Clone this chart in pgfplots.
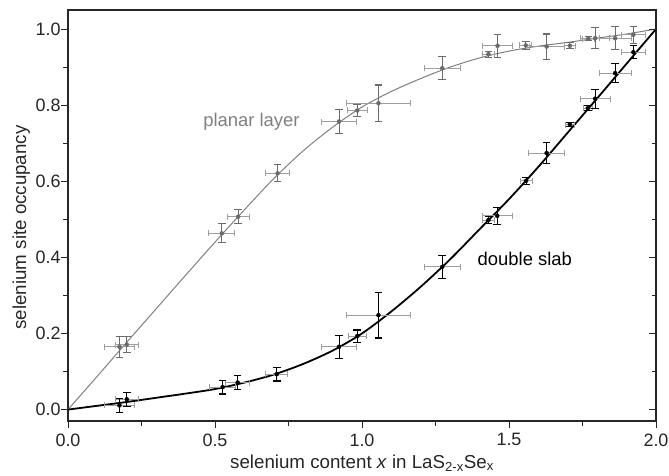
\documentclass[border=0pt]{standalone}
\usepackage{fontspec}
\setmainfont{Liberation Sans}
\usepackage{pgfplots}
\usepackage{pgfplotstable}
\pgfplotsset{compat=1.18}

\definecolor{planar}{gray}{0.5}
\definecolor{planarerr}{gray}{0.42}
\definecolor{xerr}{gray}{0.62}
\definecolor{frame}{gray}{0.15}

% columns: x, occupancy, x error, occupancy error
\pgfplotstableread{
x     y     ex    ey
0.175 0.165 0.050 0.027
0.200 0.171 0.040 0.022
0.523 0.463 0.044 0.025
0.579 0.507 0.037 0.018
0.713 0.621 0.040 0.022
0.922 0.757 0.060 0.031
0.984 0.786 0.034 0.016
1.056 0.805 0.109 0.048
1.273 0.897 0.060 0.030
1.430 0.934 0.020 0.008
1.461 0.956 0.052 0.030
1.557 0.957 0.020 0.010
1.628 0.954 0.060 0.033
1.707 0.956 0.020 0.008
1.770 0.975 0.020 0.006
1.793 0.976 0.050 0.027
1.861 0.976 0.054 0.030
1.923 0.985 0.040 0.022
}\planar

\pgfplotstableread{
x     y     ex    ey
0.175 0.011 0.050 0.018
0.200 0.027 0.040 0.018
0.526 0.059 0.045 0.018
0.577 0.071 0.040 0.018
0.710 0.093 0.037 0.018
0.922 0.165 0.060 0.030
0.984 0.193 0.030 0.016
1.056 0.248 0.109 0.060
1.273 0.375 0.060 0.030
1.430 0.498 0.020 0.009
1.460 0.509 0.052 0.023
1.558 0.601 0.020 0.009
1.628 0.674 0.061 0.028
1.707 0.749 0.015 0.006
1.768 0.792 0.015 0.006
1.793 0.817 0.051 0.025
1.861 0.884 0.054 0.025
1.923 0.939 0.040 0.017
}\slab

% fitted curves
\pgfplotstableread{
x   y
0.0 0.000
0.1 0.088
0.2 0.177
0.3 0.265
0.4 0.353
0.5 0.440
0.6 0.525
0.7 0.607
0.8 0.680
0.9 0.742
1.0 0.795
1.1 0.836
1.2 0.870
1.3 0.900
1.4 0.924
1.5 0.942
1.6 0.955
1.7 0.965
1.8 0.976
1.9 0.987
2.0 1.000
}\planarfit

\pgfplotstableread{
x   y
0.0 0.000
0.1 0.010
0.2 0.020
0.3 0.031
0.4 0.042
0.5 0.054
0.6 0.071
0.7 0.092
0.8 0.120
0.9 0.155
1.0 0.200
1.1 0.258
1.2 0.323
1.3 0.395
1.4 0.474
1.5 0.553
1.6 0.638
1.7 0.728
1.8 0.818
1.9 0.909
2.0 1.000
}\slabfit

\begin{document}
\begin{tikzpicture}
\pgfplotsset{
  common/.style={
    scale only axis, width=588bp, height=411bp,
    xmin=0, xmax=2, ymin=-0.03, ymax=1.05,
    xtick={0,0.5,1,1.5,2}, minor x tick num=1,
    ytick={0,0.2,0.4,0.6,0.8,1.0}, minor y tick num=1,
    major tick length=7bp, minor tick length=4.5bp,
    tick style={frame, line width=0.9bp},
  },
  xbars/.style={draw=none, error bars/.cd, x dir=both, x explicit, error mark=|,
    error bar style={xerr, line width=0.8bp},
    error mark options={xerr, line width=0.8bp, mark size=3bp}},
  ybars/.style={draw=none, error bars/.cd, y dir=both, y explicit, error mark=|,
    error bar style={#1, line width=1.1bp},
    error mark options={#1, line width=1.1bp, mark size=3.8bp}},
}
\begin{axis}[
  common,
  xtick pos=bottom, ytick pos=left, tick align=outside,
  axis line style={frame, line width=1.1bp},
  /pgf/number format/.cd, fixed, fixed zerofill, precision=1, assume math mode=true,
  /pgfplots/.cd,
  tick label style={font=\fontsize{18}{18}\selectfont, text=frame},
  yticklabel style={xshift=3bp},
  xticklabel style={yshift=-2bp},
  xlabel={selenium content \textit{x} in LaS\textsubscript{2-x}Se\textsubscript{x}},
  ylabel={selenium site occupancy},
  label style={font=\fontsize{18.8}{19}\selectfont, text=frame},
  xlabel style={at={(axis description cs:0.5,-0.115)}, anchor=base},
  ylabel style={at={(axis description cs:-0.0714,0.471)}, anchor=base},
  clip=false,
]
% fitted curves
\addplot[planar, line width=1bp, smooth] table {\planarfit};
\addplot[black, line width=1.8bp, smooth] table {\slabfit};

% horizontal error bars
\addplot[xbars] table[x error=ex] {\planar};
\addplot[xbars] table[x error=ex] {\slab};

% vertical error bars
\addplot[ybars=planarerr] table[y error=ey] {\planar};
\addplot[ybars=black] table[y error=ey] {\slab};

% measured points
\addplot[only marks, mark=*, mark size=2bp, color=planarerr] table {\planar};
\addplot[only marks, mark=*, mark size=2bp, color=black] table {\slab};

\node[text=planar, font=\fontsize{18.5}{18.5}\selectfont] at (axis cs:0.624,0.756) {planar layer};
\node[text=black, font=\fontsize{18.5}{18.5}\selectfont] at (axis cs:1.554,0.396) {double slab};
\end{axis}
% inward ticks on the right-hand side
\begin{axis}[
  common,
  xtick=\empty, ytick pos=right, tick align=inside,
  yticklabels={}, axis line style={draw=none},
]
\end{axis}
\pgfresetboundingbox
\useasboundingbox ([xshift=-68bp,yshift=-55bp]current axis.south west)
  rectangle ([xshift=13bp,yshift=10bp]current axis.north east);
\end{tikzpicture}
\end{document}
